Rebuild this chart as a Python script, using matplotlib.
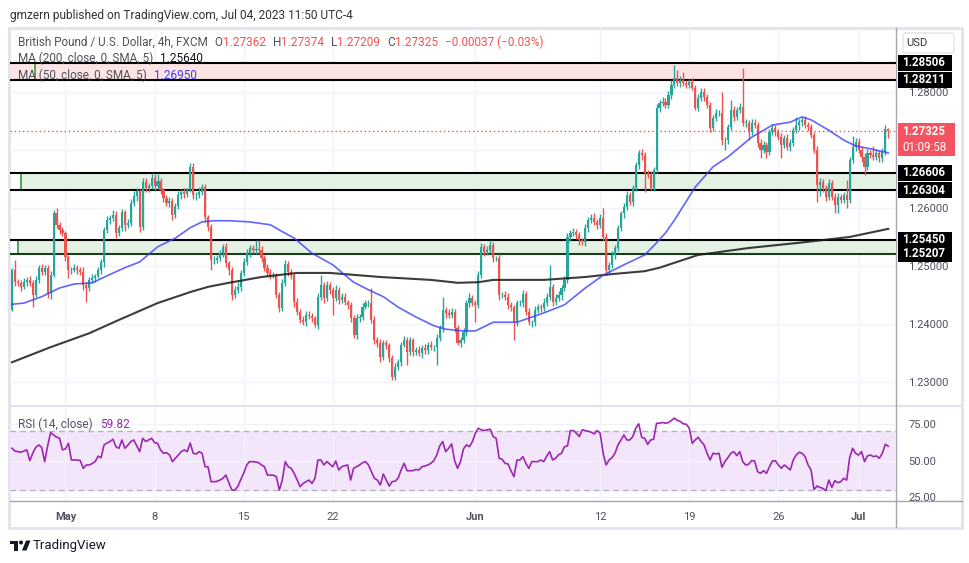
import numpy as np
import matplotlib.pyplot as plt
from matplotlib.patches import Rectangle, Circle, Polygon, FancyBboxPatch
from matplotlib.transforms import blended_transform_factory

plt.rcParams['font.family'] = ['Roboto', 'DejaVu Sans']

# ---- GBP/USD 4h candles (open of each bar = previous close) ----
first_open = 1.2424
closes = [
    1.2493, 1.2472, 1.2471, 1.2464, 1.2472, 1.2476, 1.2471, 1.2450, 1.2476, 1.2497,
    1.2490, 1.2497, 1.2453, 1.2484, 1.2591, 1.2571, 1.2562, 1.2557, 1.2516, 1.2493,
    1.2493, 1.2497, 1.2493, 1.2490, 1.2467, 1.2462, 1.2476, 1.2479, 1.2483, 1.2493,
    1.2507, 1.2562, 1.2579, 1.2583, 1.2588, 1.2557, 1.2566, 1.2593, 1.2571, 1.2574,
    1.2609, 1.2621, 1.2629, 1.2567, 1.2645, 1.2634, 1.2638, 1.2652, 1.2638, 1.2647,
    1.2631, 1.2617, 1.2609, 1.2612, 1.2588, 1.2603, 1.2622, 1.2628, 1.2624, 1.2631,
    1.2671, 1.2622, 1.2622, 1.2628, 1.2636, 1.2584, 1.2567, 1.2510, 1.2510, 1.2514,
    1.2522, 1.2533, 1.2505, 1.2493, 1.2450, 1.2459, 1.2464, 1.2488, 1.2507, 1.2522,
    1.2531, 1.2528, 1.2529, 1.2528, 1.2514, 1.2497, 1.2488, 1.2484, 1.2484, 1.2450,
    1.2428, 1.2471, 1.2503, 1.2490, 1.2484, 1.2438, 1.2421, 1.2407, 1.2403, 1.2416,
    1.2414, 1.2410, 1.2398, 1.2447, 1.2467, 1.2445, 1.2467, 1.2459, 1.2445, 1.2459,
    1.2441, 1.2447, 1.2438, 1.2433, 1.2410, 1.2381, 1.2410, 1.2412, 1.2429, 1.2436,
    1.2436, 1.2407, 1.2372, 1.2367, 1.2343, 1.2367, 1.2364, 1.2341, 1.2309, 1.2326,
    1.2334, 1.2364, 1.2372, 1.2352, 1.2372, 1.2352, 1.2355, 1.2350, 1.2359, 1.2355,
    1.2364, 1.2360, 1.2360, 1.2376, 1.2393, 1.2424, 1.2419, 1.2416, 1.2421, 1.2393,
    1.2367, 1.2372, 1.2386, 1.2436, 1.2445, 1.2436, 1.2433, 1.2484, 1.2533, 1.2524,
    1.2528, 1.2536, 1.2514, 1.2514, 1.2450, 1.2450, 1.2447, 1.2433, 1.2429, 1.2403,
    1.2436, 1.2436, 1.2452, 1.2421, 1.2403, 1.2403, 1.2424, 1.2429, 1.2428, 1.2436,
    1.2447, 1.2464, 1.2438, 1.2445, 1.2450, 1.2462, 1.2476, 1.2550, 1.2557, 1.2559,
    1.2553, 1.2545, 1.2541, 1.2566, 1.2579, 1.2583, 1.2576, 1.2571, 1.2583, 1.2550,
    1.2493, 1.2502, 1.2519, 1.2531, 1.2566, 1.2591, 1.2602, 1.2622, 1.2610, 1.2634,
    1.2674, 1.2695, 1.2691, 1.2660, 1.2657, 1.2634, 1.2666, 1.2772, 1.2781, 1.2783,
    1.2778, 1.2795, 1.2812, 1.2824, 1.2816, 1.2821, 1.2816, 1.2812, 1.2817, 1.2807,
    1.2772, 1.2790, 1.2800, 1.2791, 1.2778, 1.2738, 1.2755, 1.2764, 1.2764, 1.2717,
    1.2717, 1.2740, 1.2769, 1.2757, 1.2769, 1.2774, 1.2747, 1.2747, 1.2731, 1.2747,
    1.2743, 1.2712, 1.2700, 1.2709, 1.2697, 1.2731, 1.2738, 1.2731, 1.2722, 1.2709,
    1.2721, 1.2705, 1.2712, 1.2734, 1.2743, 1.2748, 1.2752, 1.2743, 1.2740, 1.2726,
    1.2700, 1.2640, 1.2645, 1.2634, 1.2619, 1.2643, 1.2619, 1.2605, 1.2619, 1.2614,
    1.2622, 1.2614, 1.2683, 1.2705, 1.2714, 1.2700, 1.2688, 1.2671, 1.2695, 1.2691,
    1.2688, 1.2695, 1.2686, 1.2697, 1.27362, 1.27325,
]
# wick lengths in pips above / below the candle body
wick_up = [
    4, 17, 6, 5, 8, 5, 6, 4, 7, 5,  6, 5, 4, 7, 6, 9, 5, 6, 4, 3,
    5, 6, 4, 5, 8, 6, 5, 7, 4, 6,  5, 6, 7, 5, 8, 6, 5, 6, 4, 7,
    6, 8, 5, 4, 7, 6, 5, 9, 6, 12,  5, 4, 6, 7, 5, 6, 8, 5, 6, 4,
    7, 6, 5, 8, 6, 5, 4, 6, 7, 5,  6, 5, 7, 4, 5, 6, 8, 5, 6, 7,
    5, 6, 16, 15, 6, 5, 7, 6, 5, 4,  5, 6, 7, 6, 5, 4, 6, 5, 7, 6,
    6, 5, 4, 6, 17, 5, 7, 6, 5, 8,  5, 6, 7, 4, 5, 6, 7, 5, 8, 6,
    5, 26, 6, 5, 7, 6, 5, 4, 6, 7,  6, 5, 7, 6, 5, 4, 6, 7, 5, 6,
    5, 6, 4, 7, 6, 23, 5, 6, 7, 5,  6, 5, 7, 6, 8, 5, 6, 7, 6, 5,
    6, 9, 5, 4, 6, 5, 7, 6, 5, 4,  5, 6, 7, 5, 6, 4, 7, 5, 6, 8,
    6, 38, 5, 7, 6, 5, 6, 7, 5, 6,  5, 6, 4, 7, 5, 6, 8, 5, 6, 17,
    6, 5, 7, 6, 5, 4, 6, 7, 5, 6,  6, 5, 7, 6, 5, 6, 5, 7, 6, 8,
    7, 6, 8, 23, 14, 6, 13, 5, 6, 7,  5, 6, 7, 6, 5, 4, 6, 7, 5, 36,
    6, 5, 17, 6, 5, 7, 67, 6, 5, 7,  6, 5, 7, 6, 5, 6, 7, 5, 6, 8,
    5, 6, 7, 5, 14, 6, 5, 7, 6, 5,  5, 6, 7, 5, 6, 7, 5, 6, 7, 5,
    6, 26, 5, 19, 7, 6, 5, 7, 6, 5,  15, 6, 5, 7, 6, 1.2,
]
wick_dn = [
    2, 6, 5, 8, 4, 6, 5, 21, 4, 6,  5, 6, 8, 10, 3, 6, 7, 5, 8, 14,
    6, 4, 7, 5, 8, 24, 6, 5, 7, 4,  6, 8, 5, 7, 6, 9, 5, 6, 10, 5,
    5, 6, 9, 8, 5, 7, 6, 5, 8, 6,  7, 6, 5, 8, 9, 6, 5, 7, 6, 5,
    4, 6, 9, 5, 6, 8, 7, 17, 6, 5,  5, 7, 6, 8, 9, 6, 5, 7, 5, 6,
    6, 5, 7, 6, 8, 5, 6, 7, 5, 6,  7, 6, 5, 7, 6, 8, 5, 6, 4, 7,
    5, 6, 3, 7, 5, 8, 6, 7, 29, 5,  7, 5, 6, 8, 6, 5, 7, 6, 5, 4,
    6, 5, 7, 6, 9, 5, 7, 6, 6, 5,  5, 6, 4, 23, 5, 7, 6, 5, 8, 6,
    6, 5, 7, 31, 5, 6, 8, 5, 6, 7,  3, 6, 5, 7, 6, 5, 30, 6, 5, 7,
    5, 6, 7, 5, 8, 6, 5, 7, 6, 31,  6, 5, 7, 6, 5, 8, 6, 5, 7, 6,
    5, 6, 7, 5, 6, 8, 5, 6, 7, 5,  6, 9, 5, 6, 7, 5, 6, 7, 5, 6,
    9, 5, 6, 7, 5, 6, 8, 6, 5, 7,  5, 6, 8, 32, 6, 3, 5, 6, 7, 5,
    6, 5, 7, 6, 5, 7, 6, 5, 6, 4,  3, 5, 6, 7, 5, 7, 6, 5, 6, 8,
    17, 6, 5, 7, 6, 5, 6, 7, 14, 5,  5, 7, 14, 6, 11, 5, 6, 7, 5, 23,
    6, 5, 7, 6, 5, 8, 6, 5, 7, 6,  6, 30, 20, 6, 7, 5, 6, 14, 14, 6,
    5, 14, 6, 5, 7, 6, 8, 14, 6, 5,  6, 5, 7, 6, 5, 11.6,
]
rsi = [
    58.4, 56.5, 56.1, 55.7, 56.5, 57.3, 50.0, 55.0, 59.0, 60.7,
    59.0, 49.3, 60.0, 69.1, 67.5, 66.0, 65.3, 57.3, 58.0, 61.8,
    50.4, 50.4, 50.4, 50.0, 44.7, 47.0, 47.0, 48.0, 49.3, 53.0,
    52.0, 60.7, 62.0, 63.0, 64.6, 59.5, 58.4, 64.1, 58.4, 60.5,
    63.0, 64.1, 60.0, 56.1, 65.2, 63.0, 64.1, 65.2, 62.3, 61.8,
    57.3, 55.0, 55.4, 54.0, 49.3, 51.5, 53.8, 56.1, 57.3, 56.1,
    62.0, 55.0, 54.5, 56.1, 55.0, 45.8, 45.8, 35.6, 35.6, 35.8,
    36.7, 37.9, 40.1, 35.0, 29.9, 29.9, 32.2, 37.0, 41.3, 47.0,
    49.3, 49.3, 49.0, 48.6, 47.0, 45.8, 40.1, 40.1, 40.0, 39.0,
    29.9, 36.7, 49.3, 45.8, 44.7, 41.3, 36.7, 32.2, 34.4, 35.6,
    36.7, 34.4, 38.0, 50.4, 50.4, 47.0, 49.3, 47.5, 45.8, 49.7,
    43.6, 45.8, 46.5, 47.0, 36.7, 44.7, 45.8, 47.0, 48.5, 49.3,
    47.0, 42.4, 37.9, 36.7, 33.3, 40.8, 36.7, 32.6, 35.6, 36.0,
    38.0, 43.6, 48.1, 43.1, 43.1, 43.1, 44.0, 43.6, 45.8, 46.3,
    47.0, 48.1, 50.0, 53.8, 60.0, 63.0, 56.1, 58.4, 61.4, 50.0,
    44.7, 49.3, 58.0, 60.7, 59.5, 63.0, 68.7, 72.1, 71.0, 70.5,
    71.0, 71.4, 66.4, 65.2, 51.6, 50.9, 48.1, 47.7, 43.0, 39.0,
    50.4, 50.4, 52.7, 48.0, 44.7, 49.3, 49.3, 49.3, 50.4, 49.3,
    53.0, 56.1, 50.4, 51.6, 54.0, 55.0, 59.5, 60.0, 70.5, 70.5,
    68.7, 66.4, 71.0, 70.5, 70.0, 69.4, 68.2, 70.5, 68.7, 55.0,
    47.0, 50.4, 52.0, 55.0, 60.7, 64.0, 67.5, 64.1, 64.1, 66.4,
    72.1, 75.1, 65.9, 65.2, 61.1, 64.1, 64.5, 75.5, 75.5, 76.0,
    75.5, 76.0, 77.4, 79.0, 77.4, 76.7, 75.1, 74.8, 72.1, 61.8,
    64.1, 65.9, 63.0, 60.7, 55.0, 50.4, 55.0, 54.5, 55.0, 45.4,
    49.3, 52.0, 55.0, 56.1, 53.4, 56.1, 49.3, 47.0, 47.5, 50.0,
    49.7, 42.4, 41.3, 43.1, 41.3, 45.8, 49.7, 49.9, 47.0, 44.7,
    47.0, 45.4, 43.6, 50.4, 53.8, 55.7, 55.0, 52.7, 47.0, 43.6,
    30.3, 32.6, 31.7, 31.0, 29.4, 36.7, 31.7, 36.3, 34.9, 35.6,
    37.9, 36.7, 52.0, 58.4, 55.0, 53.8, 56.1, 49.3, 53.2, 53.8,
    52.7, 53.2, 51.6, 55.0, 61.1, 59.82,
]
# moving averages, read at a set of bars
ma50_bars = [0, 4, 10, 16, 21, 27, 32, 38, 43, 49, 55, 60, 64, 68, 73, 80, 87, 90,
             95, 101, 108, 115, 120, 125, 130, 136, 142, 146, 152, 156, 162, 170,
             179, 186, 193, 199, 206, 213, 217, 220, 223, 230, 236, 241, 249, 256,
             262, 266, 269, 275, 280, 284, 289, 295]
ma50_vals = [1.2434, 1.2436, 1.2447, 1.2462, 1.2469, 1.2471, 1.2483, 1.2497, 1.2507,
             1.2533, 1.2548, 1.2566, 1.2576, 1.2578, 1.2578, 1.2576, 1.2571, 1.2562,
             1.2548, 1.2522, 1.2502, 1.2472, 1.2459, 1.2447, 1.2429, 1.2412, 1.2397,
             1.2391, 1.2388, 1.2388, 1.2403, 1.2403, 1.2419, 1.2433, 1.2462, 1.2484,
             1.2502, 1.2519, 1.2540, 1.2557, 1.2579, 1.2636, 1.2671, 1.2688, 1.2722,
             1.2743, 1.2748, 1.2757, 1.2752, 1.2734, 1.2717, 1.2707, 1.2702, 1.2695]
ma200_bars = [0, 13, 26, 36, 49, 60, 66, 73, 84, 96, 107, 124, 141, 150, 157, 162,
              179, 193, 202, 213, 218, 231, 248, 265, 282, 295]
ma200_vals = [1.2334, 1.2360, 1.2384, 1.2407, 1.2436, 1.2455, 1.2464, 1.2471, 1.2481,
              1.2488, 1.2488, 1.2481, 1.2476, 1.2471, 1.2472, 1.2476, 1.2476, 1.2481,
              1.2486, 1.2491, 1.2497, 1.2519, 1.2531, 1.2540, 1.2550, 1.2564]

# drawn zones: (low, high, first bar, fill colour)
zones = [(1.28211, 1.28506, -0.7, '#fce4e4'),
         (1.26304, 1.26606, 3.0, '#e4f2e4'),
         (1.25207, 1.25450, 2.0, '#e4f2e4')]
zone_marks = [(7.7, 1.28211, 1.28506), (3.0, 1.26304, 1.26606), (2.0, 1.25207, 1.25450)]
levels = [1.28506, 1.28211, 1.26606, 1.26304, 1.25450, 1.25207]
last_price = 1.27325

date_ticks = [18, 48, 78, 108, 156, 198, 228, 258, 285]
date_labels = ['May', '8', '15', '22', 'Jun', '12', '19', '26', 'Jul']
price_ticks = [1.23, 1.24, 1.25, 1.26, 1.27, 1.28]
rsi_ticks = [25, 50, 75]

TEAL = '#26a69a'
RED = '#ef5350'
GRID = '#f0f3fa'
TXT = '#50535e'
PURPLE = '#9c27b0'

W, H = 970, 563
fig = plt.figure(figsize=(W / 100, H / 100), dpi=100)


def px_axes(x0, y0, x1, y1, **kw):
    return fig.add_axes([x0 / W, 1 - y1 / H, (x1 - x0) / W, (y1 - y0) / H], **kw)


# page chrome in pixel coordinates
bg = px_axes(0, 0, W, H)
bg.set_xlim(0, W)
bg.set_ylim(H, 0)
bg.axis('off')
bg.add_patch(Rectangle((9, 27.5), 953, 500, fill=False, ec='#e0e3eb', lw=2))
bg.plot([10, 962], [406, 406], color='#e0e3eb', lw=1.5)
bg.plot([10, 962], [500.5, 500.5], color='#a3a6af', lw=1)
bg.plot([896, 896], [28, 527], color='#a3a6af', lw=1)
bg.text(10, 15, 'gmzern published on TradingView.com, Jul 04, 2023 11:50 UTC-4',
        fontsize=8.6, color='#333333', va='center')
bg.add_patch(FancyBboxPatch((903, 33), 51, 20, boxstyle='round,pad=0,rounding_size=3',
                            fc='white', ec='#e0e3eb', lw=1))
bg.text(906, 43, 'USD', fontsize=8, color='#333333', va='center')

# footer logo + name
bg.add_patch(Rectangle((10, 540.5), 8, 3.2, color='#131722', lw=0))
bg.add_patch(Rectangle((14.5, 540.5), 3.5, 10, color='#131722', lw=0))
bg.add_patch(Circle((21, 542.5), 2.0, color='#131722', lw=0))
bg.add_patch(Polygon([(22, 550.5), (26, 540.5), (30.5, 540.5), (26.5, 550.5)],
                     closed=True, color='#131722', lw=0))
bg.text(33, 546, 'TradingView', fontsize=9.5, color='#131722', va='center')

# ---- main price pane ----
ax = px_axes(10, 28, 896, 405)
ax.set_facecolor('none')
for s in ax.spines.values():
    s.set_visible(False)
ax.set_xlim(-0.67, 297.6)
ax.set_ylim(1.22603, 1.29103)
x0, x1 = ax.get_xlim()

for p in price_ticks:
    ax.axhline(p, color=GRID, lw=1, zorder=0.5)
for d in date_ticks:
    ax.axvline(d, color=GRID, lw=1, zorder=0.5)

for lo_, hi_, start, fc in zones:
    ax.add_patch(Rectangle((start, lo_), x1 - start, hi_ - lo_, fc=fc, ec='none', zorder=0.8))
for xs, lo_, hi_ in zone_marks:
    ax.vlines(xs, lo_, hi_, color='#43a047', lw=1.3, zorder=0.9)
ax.hlines(levels, x0, x1, colors=['black'] * 5 + ['#1b3d1d'], lw=1.5, zorder=1)

ax.axhline(last_price, color=RED, lw=1, ls=(0, (1, 2)), zorder=1.2)

idx = np.arange(len(closes))
c = np.array(closes)
o = np.array([first_open] + closes[:-1])
hi = np.maximum(o, c) + np.array(wick_up) / 10000
lo = np.minimum(o, c) - np.array(wick_dn) / 10000
cols = np.where(c >= o, TEAL, RED)
ax.vlines(idx, lo, hi, colors=cols, lw=1, zorder=2)
ax.bar(idx, np.maximum(np.abs(c - o), 0.00006), bottom=np.minimum(o, c), width=0.72,
       color=cols, linewidth=0, zorder=2.1)

ax.plot(ma200_bars, ma200_vals, color='#1a1a1a', lw=1.5, alpha=0.85, zorder=2.3)
ax.plot(ma50_bars, ma50_vals, color='#3d3dff', lw=1.2, alpha=0.8, zorder=2.3)

ax.yaxis.tick_right()
# the 1.27 label sits under the live-price tag, so it is left blank
ax.set_yticks(price_ticks, ['' if p == 1.27 else f'{p:.5f}' for p in price_ticks])
ax.set_xticks(date_ticks, [])
ax.tick_params(axis='both', length=0)
ax.tick_params(axis='y', pad=9, labelsize=8, labelcolor=TXT)

# price labels on the axis
trans = blended_transform_factory(ax.transAxes, ax.transData)
unit = (ax.get_ylim()[1] - ax.get_ylim()[0]) / 377.0  # price per pixel
bx0 = (898 - 10) / 886.0
bw = 54 / 886.0
for lvl in levels:
    ax.add_patch(Rectangle((bx0, lvl - 8 * unit), bw, 16 * unit, transform=trans,
                           fc='black', ec='none', clip_on=False, zorder=4))
    ax.text(bx0 + 4 / 886.0, lvl, f'{lvl:.5f}', transform=trans, color='white',
            fontsize=8.3, fontweight='bold', va='center', zorder=5)
ax.add_patch(Rectangle((bx0, last_price - 25 * unit), bw + 3 / 886.0, 33 * unit,
                       transform=trans, fc='#f7525f', ec='none', clip_on=False, zorder=4))
ax.text(bx0 + 4 / 886.0, last_price, f'{last_price:.5f}', transform=trans, color='white',
        fontsize=8.3, fontweight='bold', va='center', zorder=5)
ax.text(bx0 + 4 / 886.0, last_price - 16 * unit, '01:09:58', transform=trans, color='white',
        fontsize=8.3, va='center', zorder=5)

# ---- RSI pane ----
rax = px_axes(10, 408, 896, 500)
rax.set_facecolor('none')
for s in rax.spines.values():
    s.set_visible(False)
rax.set_xlim(x0, x1)
rax.set_ylim(23.1, 85.9)
rax.axhspan(30, 70, color='#f3e6fb', zorder=0.3)
for v in rsi_ticks:
    rax.axhline(v, color=GRID, lw=1, zorder=0.5)
for d in date_ticks:
    rax.axvline(d, color=GRID, lw=1, zorder=0.5)
rax.axhline(70, color='#b2b5be', lw=1, ls=(0, (4, 3)), zorder=0.7)
rax.axhline(30, color='#b2b5be', lw=1, ls=(0, (4, 3)), zorder=0.7)
rax.plot(idx, rsi, color=PURPLE, lw=1.2, zorder=2)

rax.yaxis.tick_right()
rax.set_yticks(rsi_ticks, [f'{v:.2f}' for v in rsi_ticks])
rax.set_xticks(date_ticks, date_labels)
rax.tick_params(axis='both', length=0, labelsize=8, labelcolor=TXT)
rax.tick_params(axis='y', pad=9)
rax.tick_params(axis='x', pad=9)
for lab in rax.get_xticklabels():
    if lab.get_text() in ('May', 'Jun', 'Jul'):
        lab.set_fontweight('bold')

# ---- legends, drawn on top of everything ----
fg = px_axes(0, 0, W, H)
fg.set_xlim(0, W)
fg.set_ylim(H, 0)
fg.axis('off')
fg.patch.set_visible(False)


def chain(pieces, x, y, size):
    t = fg.text(x, y, pieces[0][0], fontsize=size, color=pieces[0][1], va='baseline')
    for txt, col, gap in pieces[1:]:
        t = fg.annotate(txt, xy=(1, 0), xycoords=t, xytext=(gap, 0),
                        textcoords='offset points', fontsize=size, color=col,
                        va='bottom', ha='left')


chain([('British Pound / U.S. Dollar, 4h, FXCM', TXT, 0), ('O', TXT, 5),
       ('1.27362', RED, 0), ('H', TXT, 5), ('1.27374', RED, 0), ('L', TXT, 5),
       ('1.27209', RED, 0), ('C', TXT, 5), ('1.27325', RED, 0),
       ('\u22120.00037 (\u22120.03%)', RED, 5)], 18, 46, 8.5)
chain([('MA (200, close, 0, SMA, 5)', TXT, 0), ('1.25640', '#131722', 5)], 18, 62, 8.5)
chain([('MA (50, close, 0, SMA, 5)', TXT, 0), ('1.26950', '#3d3dff', 5)], 18, 79, 8.5)
chain([('RSI (14, close)', TXT, 0), ('59.82', PURPLE, 5)], 18, 428, 8.5)

fig.savefig('out.png', dpi=100)
